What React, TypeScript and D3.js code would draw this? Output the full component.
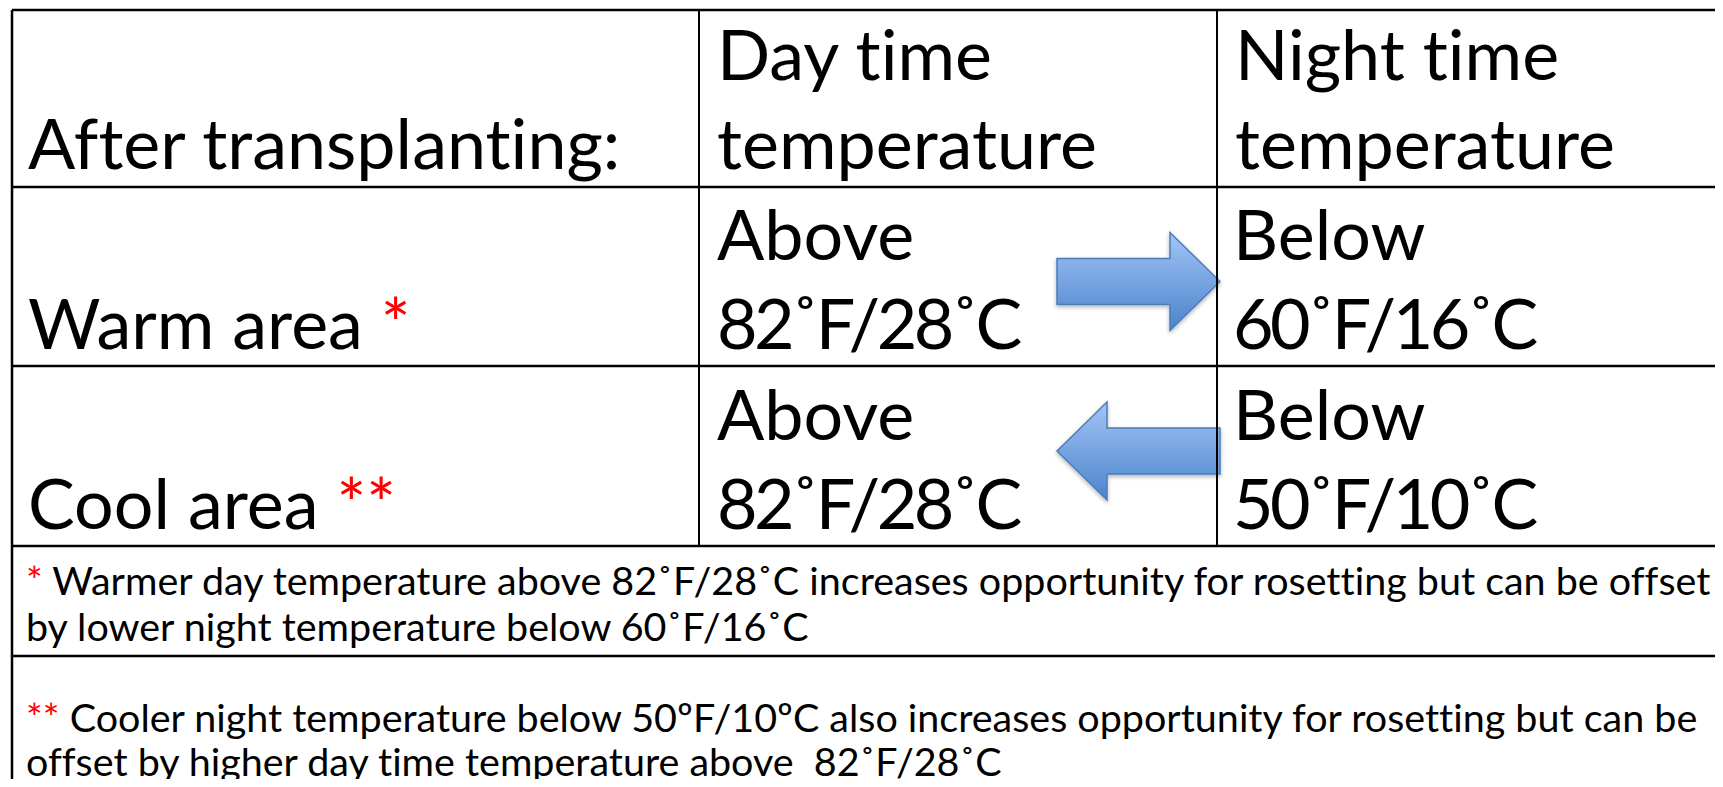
import React, { useRef, useEffect } from "react";
import * as d3 from "d3";

// table content
const cornerLabel = "After transplanting:";
const columnHeads = [
  ["Day time", "temperature"],
  ["Night time", "temperature"],
];
const areaNames = ["Warm area", "Cool area"];
const areaMarks = ["*", "**"];
const dayPrefix = ["Above", "Above"];
const dayTemps = ["82˚F/28˚C", "82˚F/28˚C"];
const nightPrefix = ["Below", "Below"];
const nightTemps = ["60˚F/16˚C", "50˚F/10˚C"];
const arrowDirs = ["right", "left"];
const noteMarks = ["*", "**"];
const noteLines = [
  [
    " Warmer day temperature above 82˚F/28˚C increases opportunity for rosetting but can be offset",
    "by lower night temperature below 60˚F/16˚C",
  ],
  [
    " Cooler night temperature below 50ºF/10ºC also increases opportunity for rosetting but can be",
    "offset by higher day time temperature above  82˚F/28˚C",
  ],
];

const W = 1723;
const H = 787;
const FONT = "Lato, 'Open Sans', sans-serif";

const App = () => {
  const ref = useRef(null);

  useEffect(() => {
    const root = d3.select(ref.current);
    root.selectAll("*").remove();

    const svg = root
      .append("svg")
      .attr("width", W)
      .attr("height", H)
      .style("display", "block")
      .style("background", "#fff");

    // column / row edges
    const colX = d3.scaleOrdinal<number, number>().domain([0, 1, 2, 3]).range([12, 699, 1217, W + 10]);
    const rowY = d3.scaleOrdinal<number, number>().domain([0, 1, 2, 3, 4]).range([10, 187, 366, 546, 656]);

    const big = 70;
    const lineGap = 89;
    const padX = 16;
    const tempSpacing = -3.5;

    // gradient for arrows
    const defs = svg.append("defs");
    const grad = defs
      .append("linearGradient")
      .attr("id", "arrowGrad")
      .attr("x1", 0)
      .attr("y1", 0)
      .attr("x2", 0)
      .attr("y2", 1);
    grad.append("stop").attr("offset", "0%").attr("stop-color", "#a2c5f6");
    grad.append("stop").attr("offset", "100%").attr("stop-color", "#4c83cc");
    const shadow = defs.append("filter").attr("id", "sh").attr("x", -0.1).attr("y", -0.1).attr("width", 1.3).attr("height", 1.4);
    shadow
      .append("feDropShadow")
      .attr("dx", 0)
      .attr("dy", 2)
      .attr("stdDeviation", 2)
      .attr("flood-color", "#000")
      .attr("flood-opacity", 0.3);

    const txt = (x: number, y: number, size: number) =>
      svg
        .append("text")
        .attr("x", x)
        .attr("y", y)
        .attr("font-family", FONT)
        .attr("font-size", size)
        .attr("fill", "#000")
        .style("white-space", "pre")
        .style("font-variant-ligatures", "none")
        .style("font-feature-settings", "'liga' 0, 'clig' 0");

    // header row
    const headBase = rowY(1) - 18;
    txt(colX(0) + padX, headBase, big).text(cornerLabel);
    columnHeads.forEach((lines, i) => {
      lines.forEach((l, j) => {
        txt(colX(i + 1) + padX + 2, headBase - (lines.length - 1 - j) * lineGap, big).text(l);
      });
    });

    // data rows
    const arrowShift = [5, -5];
    areaNames.forEach((name, i) => {
      const base = rowY(i + 2) - 17;
      const t = txt(colX(0) + padX, base, big);
      t.append("tspan").text(name + " ");
      t.append("tspan").attr("fill", "#ff0000").text(areaMarks[i]);
      txt(colX(1) + padX + 2, base - lineGap, big).text(dayPrefix[i]);
      txt(colX(1) + padX + 2, base, big).attr("letter-spacing", tempSpacing).text(dayTemps[i]);
      txt(colX(2) + padX, base - lineGap, big).text(nightPrefix[i]);
      txt(colX(2) + padX, base, big).attr("letter-spacing", tempSpacing).text(nightTemps[i]);

      // arrow between the two temperature columns
      const top = rowY(i + 1);
      const bot = rowY(i + 2);
      const cy = (top + bot) / 2 + arrowShift[i];
      const a = colX(2) - 160;
      const b = colX(2) + 3;
      const shaftH = 23;
      const headH = 49;
      const headL = 50;
      let pts: [number, number][];
      if (arrowDirs[i] === "right") {
        pts = [
          [a, cy - shaftH],
          [b - headL, cy - shaftH],
          [b - headL, cy - headH],
          [b, cy],
          [b - headL, cy + headH],
          [b - headL, cy + shaftH],
          [a, cy + shaftH],
        ];
      } else {
        pts = [
          [b, cy - shaftH],
          [a + headL, cy - shaftH],
          [a + headL, cy - headH],
          [a, cy],
          [a + headL, cy + headH],
          [a + headL, cy + shaftH],
          [b, cy + shaftH],
        ];
      }
      svg
        .append("path")
        .attr("d", d3.line()(pts) + "Z")
        .attr("fill", "url(#arrowGrad)")
        .attr("stroke", "#4a7ebb")
        .attr("stroke-width", 1.5)
        .attr("filter", "url(#sh)");
    });

    // footnotes: size the font so the longest line fits the row like the original
    const probe = txt(0, -100, 40);
    probe.append("tspan").text(noteMarks[0]);
    probe.append("tspan").text(noteLines[0][0]);
    const probeLen = (probe.node() as SVGTextElement).getComputedTextLength();
    probe.remove();
    const noteSize = 40 * ((W - colX(0) - 26) / probeLen);

    const noteBases = [
      [rowY(3) + 49, rowY(3) + 95],
      [rowY(4) + 76, rowY(4) + 120],
    ];
    noteLines.forEach((lines, i) => {
      lines.forEach((l, j) => {
        const t = txt(colX(0) + padX - 2, noteBases[i][j], noteSize);
        if (j === 0) {
          t.append("tspan").attr("fill", "#ff0000").text(noteMarks[i]);
        }
        t.append("tspan").text(l);
      });
    });

    // grid lines
    const g = svg.append("g").attr("stroke", "#000").attr("fill", "none");
    [0, 1, 2, 3, 4].forEach((r) => {
      g.append("line")
        .attr("x1", colX(0))
        .attr("x2", W)
        .attr("y1", rowY(r))
        .attr("y2", rowY(r))
        .attr("stroke-width", 2.5);
    });
    g.append("line")
      .attr("x1", colX(0))
      .attr("x2", colX(0))
      .attr("y1", rowY(0))
      .attr("y2", H)
      .attr("stroke-width", 2.5);
    [1, 2].forEach((c) => {
      g.append("line")
        .attr("x1", colX(c))
        .attr("x2", colX(c))
        .attr("y1", rowY(0))
        .attr("y2", rowY(3))
        .attr("stroke-width", 2);
    });
  }, []);

  return <div ref={ref} style={{ margin: -8 }}></div>;
};

export default App;
